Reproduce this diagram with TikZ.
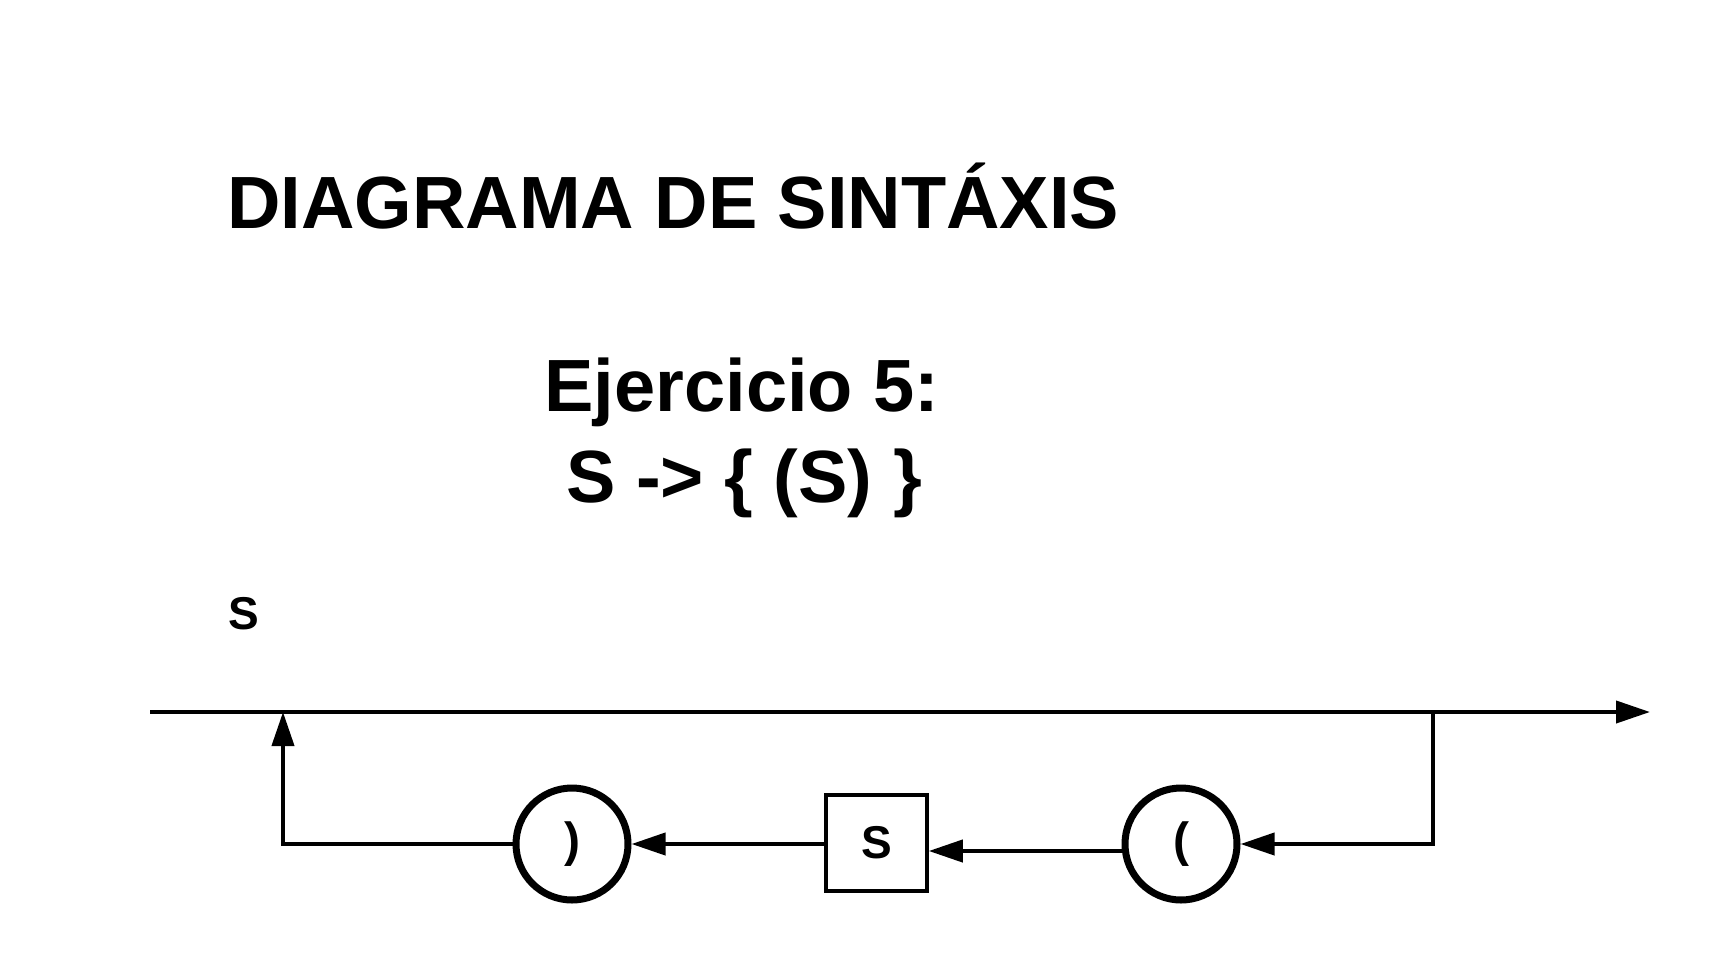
\documentclass[tikz,border=0pt]{standalone}
\usepackage{fontspec}
\setmainfont{Liberation Sans}
\usetikzlibrary{arrows.meta}
\begin{document}
\begin{tikzpicture}[x=1pt,y=-1pt,
  bigtxt/.style={font=\fontsize{74}{80}\selectfont\bfseries, inner sep=0pt},
  smalltxt/.style={font=\fontsize{46}{50}\selectfont\bfseries, inner sep=0pt},
  line/.style={line width=4pt},
  arr/.style={line width=4pt, -{Triangle[length=34pt,width=22pt]}},
  term/.style={circle, draw, line width=7pt, minimum size=112pt, inner sep=0pt, font=\fontsize{48}{50}\selectfont\bfseries},
  nonterm/.style={rectangle, draw, line width=3.5pt, minimum width=101pt, minimum height=96pt, inner sep=0pt, font=\fontsize{46}{50}\selectfont\bfseries}
]
\useasboundingbox (0,0) rectangle (1719,975);
\node[bigtxt, anchor=base west] (title) at (227,228) {DIAGRAMA DE SINTÁXIS};
\node[bigtxt, anchor=base] (ej) at (742,411) {Ejercicio 5:};
\node[bigtxt, anchor=base] (rule) at (744,502) {S -> \{ (S) \}};
\node[smalltxt, anchor=base west] (lbl) at (228,629) {S};

\coordinate (start) at (150,712);
\coordinate (finish) at (1650,712);
\coordinate (split) at (1433,712);
\coordinate (splitdown) at (1433,844);
\coordinate (join) at (283,712);
\coordinate (joindown) at (283,844);

\node[term] (copen) at (1181,844) {(};
\node[nonterm] (box) at (876.5,843) {S};
\node[term] (cclose) at (572,844) {)};

\draw[arr] (start) -- (finish);
\draw[arr] (split) -- (splitdown) -- (copen.east);
\draw[arr] ([yshift=-7pt]copen.west) -- ([yshift=-7pt]box.east |- copen.west);
\draw[arr] (box.west |- cclose.east) -- (cclose.east);
\draw[arr] (cclose.west) -- (joindown) -- (join);
\end{tikzpicture}
\end{document}
